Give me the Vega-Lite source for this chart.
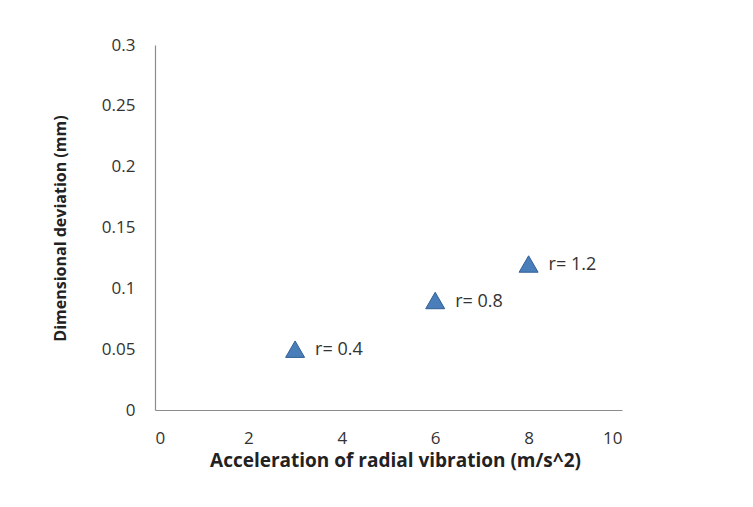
{
  "$schema": "https://vega.github.io/schema/vega-lite/v6.json",
  "autosize": "none",
  "width": 467,
  "height": 365,
  "padding": {"left": 155, "top": 45, "right": 131, "bottom": 97},
  "background": "white",
  "config": {
    "view": {"stroke": null},
    "font": "Open Sans",
    "axis": {
      "grid": false,
      "ticks": false,
      "domainColor": "#8c8c8c",
      "domainWidth": 1.2,
      "labelFont": "Open Sans",
      "labelFontSize": 17,
      "labelColor": "#333333",
      "titleFont": "Open Sans",
      "titleFontWeight": "bold",
      "titleColor": "#222222"
    }
  },
  "data": {
    "values": [
      {"accel": 3, "dev": 0.05, "label": "r= 0.4"},
      {"accel": 6, "dev": 0.09, "label": "r= 0.8"},
      {"accel": 8, "dev": 0.12, "label": "r= 1.2"}
    ]
  },
  "encoding": {
    "x": {
      "field": "accel",
      "type": "quantitative",
      "scale": {"domain": [0, 10], "nice": false, "zero": true},
      "axis": {
        "title": "Acceleration of radial vibration (m/s^2)",
        "titleFontSize": 19,
        "values": [0, 2, 4, 6, 8, 10],
        "labelPadding": 20,
        "titleX": 240,
        "titleY": 50,
        "titleBaseline": "middle"
      }
    },
    "y": {
      "field": "dev",
      "type": "quantitative",
      "scale": {"domain": [0, 0.3], "nice": false},
      "axis": {
        "title": "Dimensional deviation (mm)",
        "titleFontSize": 16,
        "values": [0, 0.05, 0.1, 0.15, 0.2, 0.25, 0.3],
        "format": "~g",
        "labelPadding": 20,
        "titleX": -95,
        "titleY": 183,
        "titleAnchor": null,
        "titleBaseline": "middle",
        "titleAlign": "center"
      }
    }
  },
  "layer": [
    {
      "mark": {
        "type": "point",
        "shape": "triangle-up",
        "size": 360,
        "filled": true,
        "fill": "#4a7ebb",
        "stroke": "#2f5f95",
        "strokeWidth": 1,
        "opacity": 1
      }
    },
    {
      "mark": {
        "type": "text",
        "align": "left",
        "baseline": "middle",
        "dx": 20,
        "dy": 1,
        "fontSize": 18,
        "color": "#333333",
        "font": "Open Sans"
      },
      "encoding": {"text": {"field": "label"}}
    }
  ]
}
